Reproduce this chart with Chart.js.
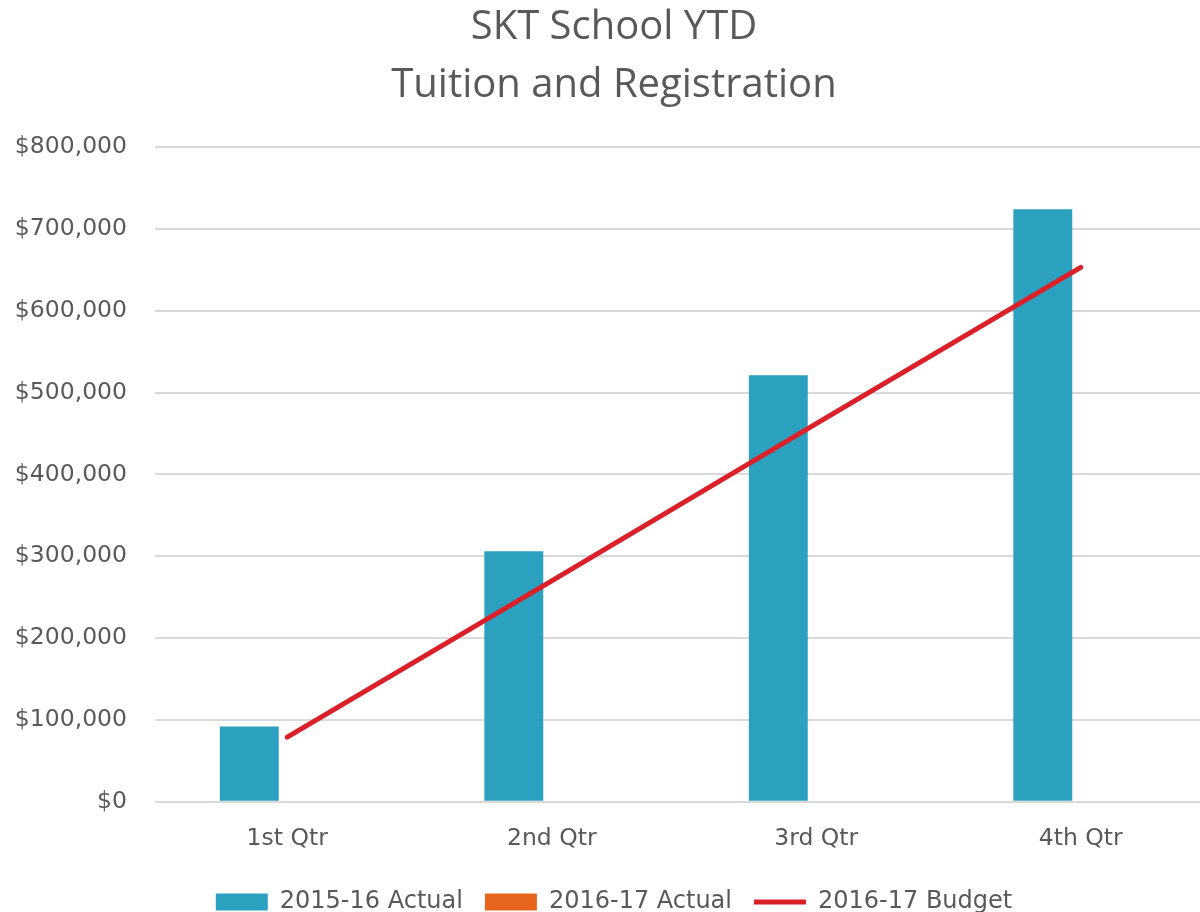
<!DOCTYPE html>
<html>
<head>
<meta charset="utf-8">
<title>SKT School YTD</title>
<script src="https://cdn.jsdelivr.net/npm/chart.js@4/dist/chart.umd.min.js"></script>
<style>
  html, body { margin: 0; padding: 0; background: #fff; overflow: hidden; }
  #wrap { width: 1240px; height: 912px; }
</style>
</head>
<body>
<div id="wrap"><canvas id="chart"></canvas></div>
<script>
// -------- DATA --------
const quarters = ["1st Qtr", "2nd Qtr", "3rd Qtr", "4th Qtr"];
const actual1516 = [92000, 306000, 521000, 724000];
const actual1617 = [null, null, null, null];
const budget1617 = [79000, 270000, 462000, 653000];
const titleLines = ["SKT School YTD", "Tuition and Registration"];

const textColor = "#595959";

const money = v => "$" + v.toLocaleString("en-US");

const ctx = document.getElementById("chart").getContext("2d");

new Chart(ctx, {
    type: "bar",
    data: {
        labels: quarters,
        datasets: [
            {
                label: "2015-16 Actual",
                data: actual1516,
                backgroundColor: "#2CA1BF",
                borderWidth: 0,
                pointStyle: "rect",
                order: 2
            },
            {
                label: "2016-17 Actual",
                data: actual1617,
                backgroundColor: "#E8651E",
                borderWidth: 0,
                pointStyle: "rect",
                order: 3
            },
            {
                type: "line",
                label: "2016-17 Budget",
                data: budget1617,
                borderColor: "#DA2129",
                backgroundColor: "#DA2129",
                borderWidth: 5,
                borderCapStyle: "round",
                pointRadius: 0,
                pointStyle: "line",
                tension: 0,
                order: 1
            }
        ]
    },
    options: {
        responsive: true,
        maintainAspectRatio: false,
        animation: false,
        layout: { padding: { left: 15, right: 27, top: 0, bottom: -12 } },
        datasets: {
            bar: { categoryPercentage: 0.574, barPercentage: 0.776 }
        },
        plugins: {
            title: {
                display: true,
                text: titleLines,
                color: textColor,
                font: { family: "'Open Sans'", size: 40, weight: "normal", lineHeight: 1.45 },
                padding: { top: -1, bottom: 32 }
            },
            legend: {
                position: "bottom",
                labels: {
                    usePointStyle: true,
                    pointStyleWidth: 52,
                    boxWidth: 52,
                    boxHeight: 17,
                    padding: 22,
                    color: textColor,
                    font: { family: "'DejaVu Sans'", size: 24 },
                    sort: (a, b) => a.datasetIndex - b.datasetIndex
                }
            },
            tooltip: { enabled: false }
        },
        scales: {
            x: {
                grid: { display: false },
                border: { display: false },
                ticks: {
                    color: textColor,
                    padding: 15,
                    font: { family: "'DejaVu Sans'", size: 23.5 }
                }
            },
            y: {
                min: 0,
                max: 800000,
                grid: { color: "#D9D9D9", lineWidth: 2, drawTicks: false },
                border: { display: false },
                ticks: {
                    stepSize: 100000,
                    color: textColor,
                    padding: 28,
                    font: { family: "'DejaVu Sans'", size: 23.5 },
                    callback: v => money(v)
                },
                afterFit: axis => { axis.width = 140; }
            }
        }
    }
});
</script>
</body>
</html>
